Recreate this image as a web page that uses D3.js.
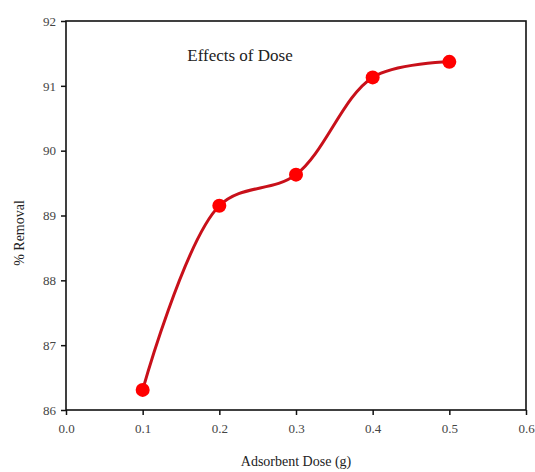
<!DOCTYPE html>
<html>
<head>
<meta charset="utf-8">
<script src="https://cdn.jsdelivr.net/npm/d3@7"></script>
<style>
  body { margin: 0; background: #fff; }
  svg { display: block; font-family: "Liberation Serif", "DejaVu Serif", serif; }
</style>
</head>
<body>
<svg></svg>
<script>
const doses = [0.1, 0.2, 0.3, 0.4, 0.5]
const removal = [86.31, 89.15, 89.63, 91.13, 91.37]
const xTicks = [0, 0.1, 0.2, 0.3, 0.4, 0.5, 0.6]
const yTicks = [86, 87, 88, 89, 90, 91, 92]

const width = 535
const height = 472
const margin = {top: 21, right: 9, bottom: 62, left: 66}
const innerW = width - margin.left - margin.right
const innerH = height - margin.top - margin.bottom

const svg = d3.select('svg').attr('width', width).attr('height', height)
const g = svg.append('g').attr('transform', `translate(${margin.left}, ${margin.top})`)

// 比例尺
const x = d3.scaleLinear().domain([0, 0.6]).range([0, innerW])
const y = d3.scaleLinear().domain([86, 92]).range([innerH, 0])

const xAxis = d3.axisBottom(x).tickValues(xTicks).tickFormat(d3.format('.1f')).tickSize(5).tickSizeOuter(0)
const yAxis = d3.axisLeft(y).tickValues(yTicks).tickFormat(d3.format('d')).tickSize(5).tickSizeOuter(0)

const gx = g.append('g').attr('transform', `translate(0, ${innerH})`).call(xAxis)
const gy = g.append('g').call(yAxis)

;[gx, gy].forEach(a => {
  a.attr('font-family', '"Liberation Serif", serif').attr('font-size', 13)
  a.select('.domain').remove()
  a.selectAll('.tick line').attr('stroke', '#111').attr('stroke-width', 1.5)
  a.selectAll('.tick text').attr('fill', '#444')
})
gx.selectAll('.tick text').attr('dy', '1.15em')
gy.selectAll('.tick text').attr('dx', '-2px')

// 边框
g.append('rect').attr('width', innerW).attr('height', innerH)
  .attr('fill', 'none').attr('stroke', '#111').attr('stroke-width', 1.6)

const pts = doses.map((d, i) => [d, removal[i]])

g.append('path').datum(pts)
  .attr('fill', 'none').attr('stroke', '#c8101a').attr('stroke-width', 3)
  .attr('d', d3.line().x(d => x(d[0])).y(d => y(d[1])).curve(d3.curveCatmullRom.alpha(0.5)))

g.selectAll('.dot').data(pts).enter().append('circle').attr('class', 'dot')
  .attr('cx', d => x(d[0])).attr('cy', d => y(d[1])).attr('r', 7)
  .attr('fill', '#ff0000')

g.append('text').attr('x', 174).attr('y', 40)
  .attr('text-anchor', 'middle').attr('fill', '#222').style('font-size', '17px')
  .text('Effects of Dose')

svg.append('text').attr('x', margin.left + innerW / 2).attr('y', 466)
  .attr('text-anchor', 'middle').attr('fill', '#222').style('font-size', '14px')
  .text('Adsorbent Dose (g)')

svg.append('text').attr('transform', `translate(24, 233) rotate(-90)`)
  .attr('text-anchor', 'middle').attr('fill', '#222').style('font-size', '14px')
  .text('% Removal')
</script>
</body>
</html>
